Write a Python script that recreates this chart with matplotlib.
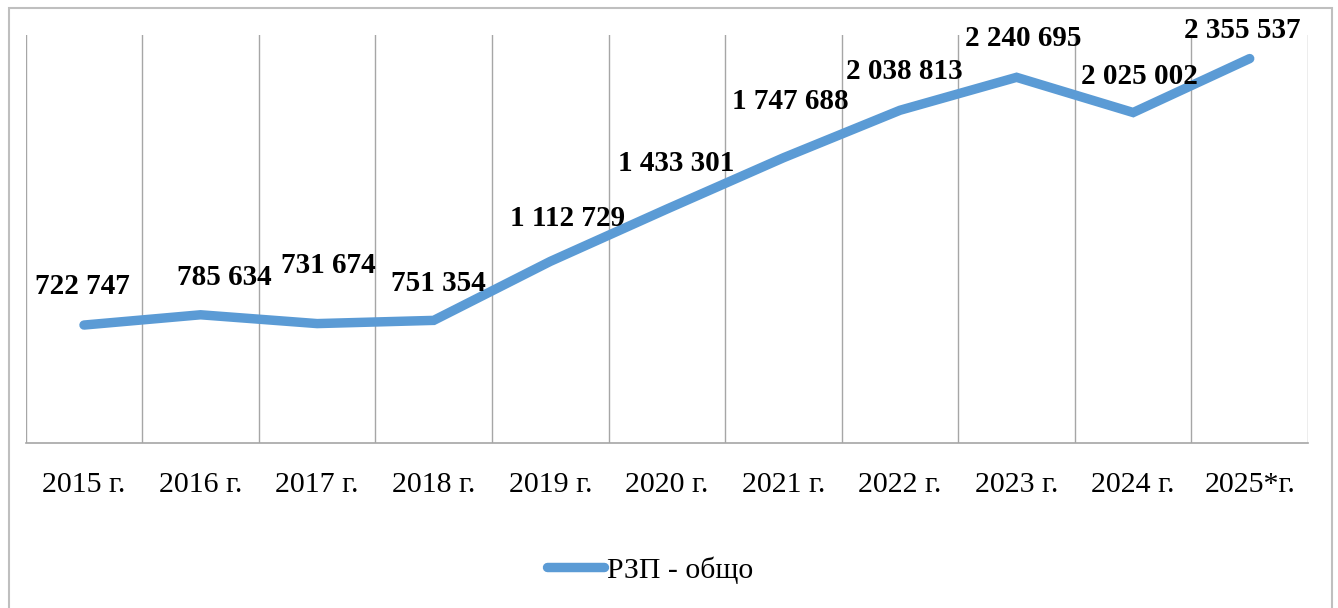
import matplotlib.pyplot as plt
from matplotlib.patches import Rectangle
from matplotlib.lines import Line2D

plt.rcParams['font.family'] = ['Liberation Serif', 'DejaVu Serif']

years = ['2015 г.', '2016 г.', '2017 г.', '2018 г.', '2019 г.', '2020 г.',
         '2021 г.', '2022 г.', '2023 г.', '2024 г.', '2025*г.']
rzp_total = [722747, 785634, 731674, 751354, 1112729, 1433301,
             1747688, 2038813, 2240695, 2025002, 2355537]

# label offsets in pixels (the labels were moved by hand in the original)
label_dx = [-2, 24, 11, 5, 17, 9, 7, 4, 7, 6, -7]
label_dy = [39, 37, 58, 37, 43, 46, 56, 39, 39, 36, 28]

line_color = '#5B9BD5'
grid_color = '#A6A6A6'


def fmt(v):
    return f'{v:,}'.replace(',', ' ')


fig = plt.figure(figsize=(13.38, 6.08), dpi=100)
ax = fig.add_axes([25.7 / 1338, 165 / 608, (1308 - 25.7) / 1338, (443 - 35) / 608])

x = list(range(len(years)))
ax.plot(x, rzp_total, color=line_color, linewidth=6.8, solid_capstyle='round',
        solid_joinstyle='miter', zorder=3)

for xi, v, dx, dy in zip(x, rzp_total, label_dx, label_dy):
    ax.annotate(fmt(v), (xi, v), xytext=(dx, dy), textcoords='offset pixels',
                ha='center', va='center', fontsize=21, fontweight='bold',
                color='black', zorder=4)

ax.set_xlim(-0.5, len(years) - 0.5)
ax.set_ylim(0, 2500000)

# category boundary gridlines
for b in range(len(years) + 1):
    ax.axvline(b - 0.5, color=grid_color, linewidth=1, zorder=1)

ax.set_xticks(x)
ax.set_xticklabels(years, fontsize=21.5)
ax.tick_params(axis='x', length=0, pad=21)
ax.set_yticks([])
for s in ['top', 'right', 'left']:
    ax.spines[s].set_visible(False)
ax.spines['bottom'].set_color(grid_color)
ax.spines['bottom'].set_linewidth(1.2)

handle = Line2D([0], [0], color=line_color, linewidth=6.8, solid_capstyle='round')
fig.legend([handle], ['РЗП - общо'], loc='center', bbox_to_anchor=(650 / 1338, 1 - 570 / 608),
           frameon=False, fontsize=21.5, handlelength=1.9, handletextpad=0.1)

# outer chart frame
fig.patches.append(Rectangle((9 / 1338, -0.05), (1332 - 9) / 1338, 1.05 - 8 / 608,
                             transform=fig.transFigure, fill=False,
                             edgecolor='#BFBFBF', linewidth=1.5))

fig.savefig('out.png', dpi=100)
